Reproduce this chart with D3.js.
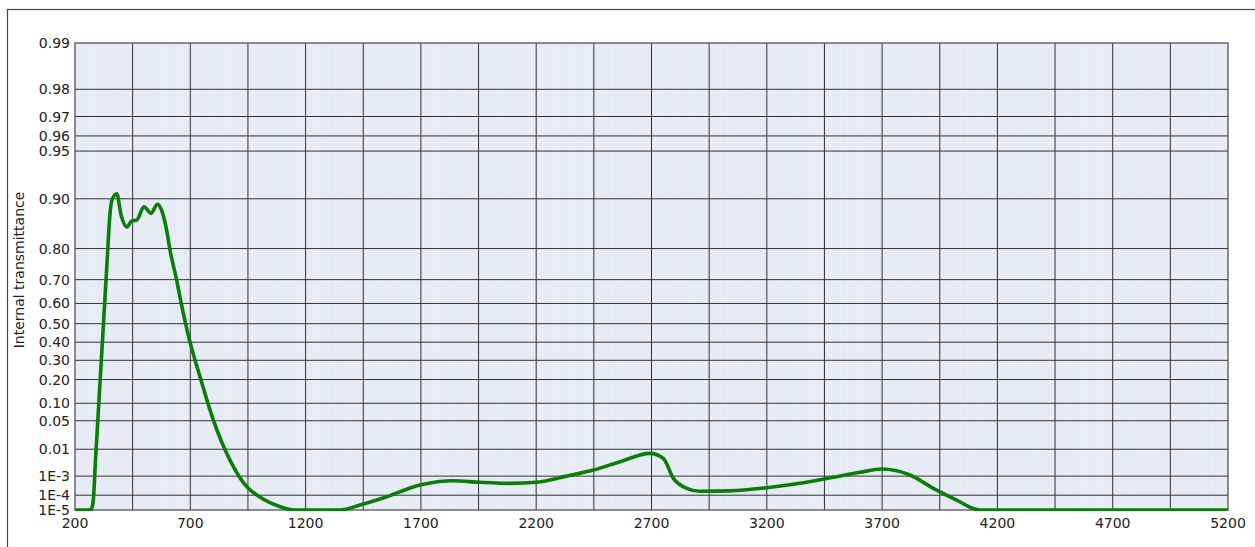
<!DOCTYPE html>
<html>
<head>
<meta charset="utf-8">
<style>
    body { margin: 0; background: #fff; }
    svg { display: block; }
    text { font-family: "DejaVu Sans", Verdana, sans-serif; fill: #222; }
</style>
<script src="https://cdn.jsdelivr.net/npm/d3@7"></script>
</head>
<body>
<svg id="chart"></svg>
<script>
    var width = 1255;
    var height = 547;

    // wavelength in nm
    var wavelength = [200, 268, 278, 290, 300, 310, 320, 330, 340, 350, 360, 381, 400, 424, 446, 468, 499, 530, 557,
        578, 598, 612, 641, 655, 700, 742, 800, 872, 945, 1000, 1090, 1150, 1350, 1436, 1552, 1696, 1840,
        1956, 2086, 2202, 2332, 2448, 2563, 2694, 2751, 2795, 2853, 2910, 3040, 3200, 3344, 3489, 3604, 3698,
        3821, 3922, 4023, 4110, 4150, 5200];
    // internal transmittance
    var transmittance = [1e-5, 1e-5, 3.1e-5, 0.0063, 0.061, 0.214, 0.428, 0.626, 0.772, 0.867, 0.898, 0.907, 0.874, 0.851,
        0.863, 0.865, 0.888, 0.877, 0.892, 0.8795, 0.843, 0.796, 0.698, 0.63, 0.395, 0.214, 0.0515, 0.0044,
        3.0e-4, 8.0e-5, 1.75e-5, 1e-5, 1e-5, 2.3e-5, 8.1e-5, 3.7e-4, 6.1e-4, 5.1e-4, 4.5e-4, 5.1e-4,
        1.0e-3, 1.83e-3, 3.85e-3, 7.46e-3, 5.08e-3, 7.9e-4, 2.48e-4, 1.7e-4, 1.8e-4, 2.68e-4, 4.52e-4, 8.8e-4,
        1.47e-3, 2.01e-3, 1.12e-3, 2.48e-4, 5.0e-5, 1.1e-5, 1e-5, 1e-5];

    var xTicks = [200, 700, 1200, 1700, 2200, 2700, 3200, 3700, 4200, 4700, 5200];
    var yTicks = [0.99, 0.98, 0.97, 0.96, 0.95, 0.90, 0.80, 0.70, 0.60, 0.50, 0.40, 0.30, 0.20, 0.10, 0.05, 0.01, 1e-3, 1e-4, 1e-5];
    var yTickLabels = ["0.99", "0.98", "0.97", "0.96", "0.95", "0.90", "0.80", "0.70", "0.60", "0.50", "0.40",
        "0.30", "0.20", "0.10", "0.05", "0.01", "1E-3", "1E-4", "1E-5"];

    var plotLeft = 75, plotRight = 1228, plotTop = 43, plotBottom = 510;

    // double-log transmittance axis: log10(-ln T)
    function dlog(t) { return Math.log10(-Math.log(t)); }

    var x = d3.scaleLinear().domain([200, 5200]).range([plotLeft, plotRight]);
    var yLin = d3.scaleLinear().domain([dlog(0.99), dlog(1e-5)]).range([plotTop, plotBottom]);
    function y(t) { return yLin(dlog(Math.min(0.99, Math.max(1e-5, t)))); }

    var svg = d3.select("#chart").attr("width", width).attr("height", height);

    // outer frame
    svg.append("rect")
        .attr("x", 7.5).attr("y", 9.5)
        .attr("width", 1262).attr("height", 560)
        .attr("fill", "none").attr("stroke", "#444").attr("stroke-width", 1.2);

    // plot background
    svg.append("rect")
        .attr("x", plotLeft).attr("y", plotTop)
        .attr("width", plotRight - plotLeft).attr("height", plotBottom - plotTop)
        .attr("fill", "#e9eef7");

    // fine stripes
    svg.append("g").selectAll("line")
        .data(d3.range(205, 5200, 10))
        .enter().append("line")
        .attr("x1", function (d) { return x(d); })
        .attr("x2", function (d) { return x(d); })
        .attr("y1", plotTop).attr("y2", plotBottom)
        .attr("stroke", "#e1e7f1").attr("stroke-width", 0.7);

    // vertical grid
    svg.append("g").selectAll("line")
        .data(d3.range(450, 5200, 250))
        .enter().append("line")
        .attr("x1", function (d) { return x(d); })
        .attr("x2", function (d) { return x(d); })
        .attr("y1", plotTop).attr("y2", plotBottom)
        .attr("stroke", "#333").attr("stroke-width", 1);

    // horizontal grid
    svg.append("g").selectAll("line")
        .data(yTicks.slice(1, -1))
        .enter().append("line")
        .attr("x1", plotLeft).attr("x2", plotRight)
        .attr("y1", function (d) { return y(d); })
        .attr("y2", function (d) { return y(d); })
        .attr("stroke", "#333").attr("stroke-width", 1);

    // plot border
    svg.append("rect")
        .attr("x", plotLeft).attr("y", plotTop)
        .attr("width", plotRight - plotLeft).attr("height", plotBottom - plotTop)
        .attr("fill", "none").attr("stroke", "#555").attr("stroke-width", 1.3);

    // y labels
    svg.append("g").selectAll("text")
        .data(yTicks)
        .enter().append("text")
        .attr("x", 70)
        .attr("y", function (d) { return y(d); })
        .attr("dy", "0.36em")
        .attr("text-anchor", "end")
        .style("font-size", "14px")
        .text(function (d, i) { return yTickLabels[i]; });

    // x labels
    svg.append("g").selectAll("text")
        .data(xTicks)
        .enter().append("text")
        .attr("x", function (d) { return x(d); })
        .attr("y", 528)
        .attr("text-anchor", "middle")
        .style("font-size", "14px")
        .text(function (d) { return d; });

    svg.append("text")
        .attr("transform", "translate(24,270) rotate(-90)")
        .attr("text-anchor", "middle")
        .style("font-size", "14px")
        .text("Internal transmittance");

    // curve
    svg.append("clipPath").attr("id", "clip")
        .append("rect")
        .attr("x", plotLeft).attr("y", plotTop - 2)
        .attr("width", plotRight - plotLeft).attr("height", plotBottom - plotTop + 3);

    var line = d3.line()
        .x(function (d, i) { return x(wavelength[i]); })
        .y(function (d) { return y(d); })
        .curve(d3.curveMonotoneX);

    svg.append("path")
        .datum(transmittance)
        .attr("clip-path", "url(#clip)")
        .attr("d", line)
        .attr("fill", "none")
        .attr("stroke", "#0a7d0a")
        .attr("stroke-width", 3.6)
        .attr("stroke-linejoin", "round");
</script>
</body>
</html>
